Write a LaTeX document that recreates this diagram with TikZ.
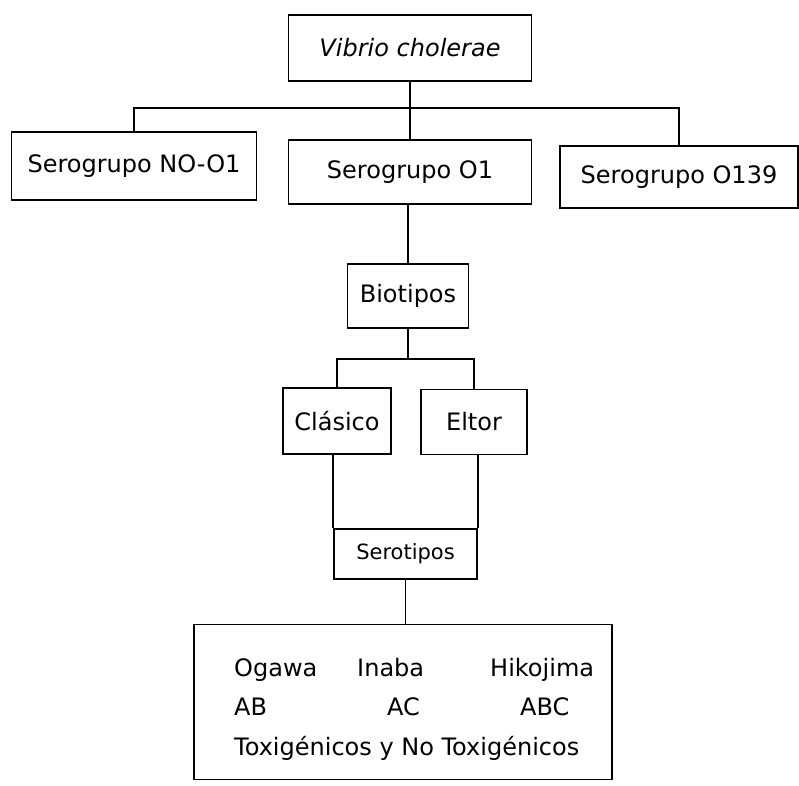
\documentclass[tikz,border=0pt]{standalone}
\usepackage{fontspec}
\setmainfont{DejaVu Sans}[ItalicFont={DejaVu Sans Oblique}]
\begin{document}
\begin{tikzpicture}[x=1pt,y=-1pt]
\tikzstyle{box}=[draw,line width=1.8pt,inner sep=0pt,font=\fontsize{24}{28}\selectfont]
\tikzstyle{smallbox}=[box,font=\fontsize{21}{25}\selectfont]
\tikzstyle{link}=[line width=1.8pt]
\tikzstyle{item}=[inner sep=0pt,anchor=base west,font=\fontsize{24}{28}\selectfont]
\useasboundingbox (0,0) rectangle (799,785);
\node[box,minimum width=243pt,minimum height=66pt] (vibrio) at (410,48) {\itshape Vibrio cholerae};
\node[box,minimum width=245pt,minimum height=68pt] (nogrp) at (134,166) {Serogrupo NO-O1};
\node[box,minimum width=243pt,minimum height=64pt] (ogrp) at (410,172) {Serogrupo O1};
\node[box,minimum width=238pt,minimum height=62pt] (o139) at (679,177) {Serogrupo O139};
\node[box,minimum width=121pt,minimum height=64pt] (biotipos) at (408,296) {Biotipos};
\node[box,minimum width=108pt,minimum height=66pt] (clasico) at (337,421) {Clásico};
\node[box,minimum width=106pt,minimum height=65pt] (eltor) at (474,422) {Eltor};
\node[smallbox,minimum width=143pt,minimum height=50pt] (serotipos) at (405.5,554) {Serotipos};
\node[box,minimum width=418pt,minimum height=155pt] (tipos) at (403,702) {};
\node[item] (ogawa) at (234,676) {Ogawa};
\node[item] (inaba) at (357,676) {Inaba};
\node[item] (hikojima) at (490,676) {Hikojima};
\node[item] (ab) at (234,715) {AB};
\node[item] (ac) at (387,715) {AC};
\node[item] (abc) at (520,715) {ABC};
\node[item] (toxi) at (234,755) {Toxigénicos y No Toxigénicos};
\coordinate (top bus) at (410,108);
\coordinate (mid bus) at (408,359);
\draw[link] (vibrio.south) -- (top bus);
\draw[link] (nogrp.north) |- (top bus) -| (o139.north);
\draw[link] (top bus) -- (ogrp.north);
\draw[link] (ogrp.south -| biotipos.north) -- (biotipos.north);
\draw[link] (biotipos.south) -- (mid bus);
\draw[link] (clasico.north) |- (mid bus) -| (eltor.north);
\draw[link] (clasico.south -| serotipos.north west) -- (serotipos.north west);
\draw[link] (eltor.south -| serotipos.north east) -- (serotipos.north east);
\draw[link] (serotipos.south) -- (serotipos.south |- tipos.north);
\end{tikzpicture}
\end{document}
